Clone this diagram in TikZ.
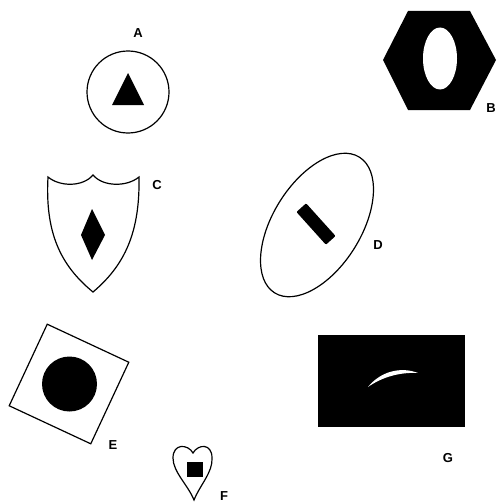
\documentclass[tikz,border=0pt]{standalone}
\usepackage{fontspec}
\setmainfont{Liberation Sans}
\begin{document}
\begin{tikzpicture}[x=1pt,y=-1pt,
  outline/.style={draw=black,line width=1.2pt,fill=white},
  solid fill/.style={fill=black},
  lbl/.style={font=\fontsize{13}{15}\selectfont\bfseries,inner sep=0pt}]
\useasboundingbox (0,0) rectangle (497,503);
% A
\draw[outline] (128,92) circle (41);
\fill[solid fill] (128,73) -- (144,105) -- (112,105) -- cycle;
\node[lbl] (labA) at (138,33) {A};
% B
\fill[solid fill] (383,60) -- (408,11) -- (470,11) -- (496,60) -- (470,110) -- (408,110) -- cycle;
\fill[white] (440,58.5) ellipse [x radius=17, y radius=31];
\node[lbl] (labB) at (491,108) {B};
% C
\draw[outline,line join=miter] (48,177) .. controls (60,187) and (83,187) .. (93,175)
  .. controls (103,187) and (127,187) .. (139,177)
  .. controls (140,232) and (125,265) .. (93,292)
  .. controls (60,265) and (45,232) .. cycle;
\fill[solid fill] (92,209) -- (105,235) -- (92,260) -- (81,235) -- cycle;
\node[lbl] (labC) at (157,185) {C};
% D
\draw[outline,rotate around={58:(317,225)}] (317,225) ellipse [x radius=80, y radius=44];
\fill[solid fill,rounded corners=1pt,rotate around={-48:(316,224)}] (294,217.5) rectangle (338,230.5);
\node[lbl] (labD) at (378,245) {D};
% E
\draw[outline,rotate around={-25:(69,384)}] (24,339) rectangle (114,429);
\fill[solid fill] (69.5,384) circle (27.5);
\node[lbl] (labE) at (113,445) {E};
% F
\draw[outline] (193,453) .. controls (188,444) and (173,443) .. (173,458)
  .. controls (173,472) and (188,485) .. (194,500)
  .. controls (200,485) and (213,472) .. (212,458)
  .. controls (212,443) and (198,444) .. cycle;
\fill[solid fill] (187,462) rectangle (203,477);
\node[lbl] (labF) at (224,496) {F};
% G
\fill[solid fill] (318,335) rectangle (465,427);
\fill[white] (368,387) .. controls (380,372) and (400,366) .. (418,373)
  .. controls (400,372) and (382,377) .. cycle;
\node[lbl] (labG) at (448,458) {G};
\end{tikzpicture}
\end{document}
